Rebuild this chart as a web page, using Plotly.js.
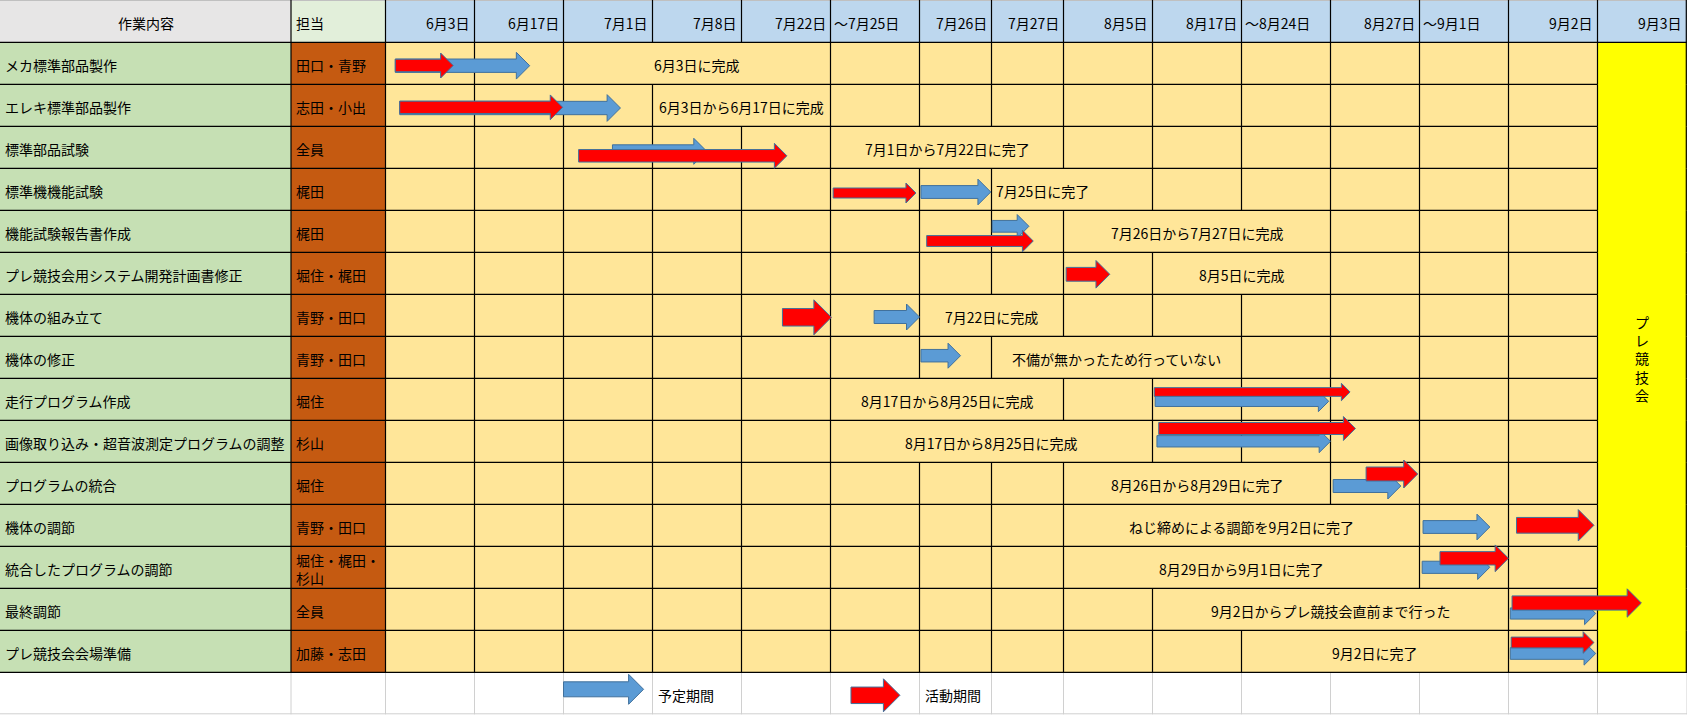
<!DOCTYPE html>
<html><head><meta charset="utf-8">
<script src="https://cdn.plot.ly/plotly-3.0.1.min.js"></script>
<style>html,body{margin:0;padding:0;background:#fff;overflow:hidden}#chart{width:1687px;height:715px}</style>
</head><body><div id="chart"></div>
<script>
// ---------- data ----------
const headerTask = '作業内容';
const headerOwner = '担当';
const dateLabels = ['6月3日','6月17日','7月1日','7月8日','7月22日','～7月25日','7月26日','7月27日','8月5日','8月17日','～8月24日','8月27日','～9月1日','9月2日','9月3日'];
const tasks = ['メカ標準部品製作','エレキ標準部品製作','標準部品試験','標準機機能試験','機能試験報告書作成','プレ競技会用システム開発計画書修正','機体の組み立て','機体の修正','走行プログラム作成','画像取り込み・超音波測定プログラムの調整','プログラムの統合','機体の調節','統合したプログラムの調節','最終調節','プレ競技会会場準備'];
const owners = ['田口・青野','志田・小出','全員','梶田','梶田','堀住・梶田','青野・田口','青野・田口','堀住','杉山','堀住','青野・田口','堀住・梶田・<br>杉山','全員','加藤・志田'];
// planned period (blue arrows), in date-column units (0 = start of 6月3日 column)
const planStart = [0.11, 0.16, 2.55, 6.02, 7.01, null, 5.49, 6.02, 9.03, 9.05, 11.03, 12.04, 12.03, 13.02, 13.02];
const planEnd   = [1.62, 2.64, 3.61, 6.99, 7.52, null, 6.00, 6.57, 10.98, 11.00, 11.79, 12.79, 12.79, 13.98, 13.98];
// actual period (red arrows)
const actualStart = [0.11, 0.16, 2.17, 5.03, 6.10, 8.03, 4.46, null, 9.02, 9.07, 11.40, 13.09, 12.23, 13.04, 13.03];
const actualEnd   = [0.76, 1.99, 4.51, 5.96, 7.58, 8.52, 5.01, null, 11.22, 11.28, 11.98, 13.96, 13.00, 14.49, 13.96];
// result notes (merged cells: from column, to column exclusive)
const notes = ['6月3日に完成','6月3日から6月17日に完成','7月1日から7月22日に完了','7月25日に完了','7月26日から7月27日に完成','8月5日に完成','7月22日に完成','不備が無かったため行っていない','8月17日から8月25日に完成','8月17日から8月25日に完成','8月26日から8月29日に完了','ねじ締めによる調節を9月2日に完了','8月29日から9月1日に完了','9月2日からプレ競技会直前まで行った','9月2日に完了'];
const noteFrom = [2, 3, 5, 7, 8, 9, 6, 7, 5, 5, 8, 8, 8, 9, 10];
const noteTo   = [5, 5, 8, 9, 11, 11, 8, 10, 8, 9, 11, 12, 12, 13, 13];
const eventLabel = 'プレ競技会';
const legendLabels = ['予定期間', '活動期間'];
const legendStart = [2.0, 5.23];
const legendEnd = [2.9, 5.78];
const legendLabelCol = [3, 6];

// ---------- layout / style ----------
const noteAlign = ['c','c','c','l','c','c','c','c','c','c','c','c','c','c','c'];
const planDy   = [2.4, 2.7, 4, 2.7, -5, 0, 1.7, -1.6, 2, 0, 2.7, 1.7, 0, 4.2, 2.2];
const actualDy = [2.2, 2, 8.5, 3.7, 9.7, 1, 2, 0, -7.3, -12.8, -9.3, 0, -9, -6.3, -8.8];
const planH    = [26.7, 26.7, 26, 25.7, 23.5, 0, 26, 25, 20.7, 22.7, 26, 25.7, 24.3, 22.3, 23.3];
const actualH  = [25, 24.7, 25, 20, 21.7, 27.6, 35, 0, 17.4, 24, 28, 31.4, 26.7, 28.4, 21.6];
const legendDy = [-4, 2];
const legendH = [30, 33];

const W = 1687, H = 715;
const firstW = [291, 94.5];
const dateW = [89,89,89,89,89,89,72,72,89,89,89,89,89,89,89.5];
const headerH = 42.3, rowH = 42;
const FONT = '"Noto Sans CJK JP", "Noto Sans CJK SC", sans-serif';
const C = {task:'#c6e0b4', owner:'#c55a11', cell:'#ffe699', event:'#ffff00', hTask:'#e7e6e6', hOwner:'#e2efda', hDate:'#bdd7ee',
           blue:'#5b9bd5', red:'#ff0000', outline:'#41719c', grid:'#d0d0d0'};

const dateEdges = [firstW[0] + firstW[1]];
dateW.forEach(w => dateEdges.push(dateEdges[dateEdges.length-1] + w));
const xOwner = firstW[0], xDate0 = dateEdges[0], xEnd = dateEdges[dateEdges.length-1];
function colX(c) {
  const i = Math.min(Math.floor(c), dateW.length - 1);
  return dateEdges[i] + (c - i) * dateW[i];
}
const nRows = tasks.length;
const rowTop = r => headerH + r * rowH;
const rowMid = r => rowTop(r) + rowH / 2;
const bodyBottom = rowTop(nRows);
const legendTop = bodyBottom, legendBottom = legendTop + rowH;

const shapes = [];
const ann = [];
function rect(x0, y0, x1, y1, fill) {
  shapes.push({type:'rect', xref:'x', yref:'y', x0, y0, x1, y1, fillcolor:fill, line:{width:0}, layer:'above'});
}
function line(x0, y0, x1, y1, color, w) {
  shapes.push({type:'line', xref:'x', yref:'y', x0, y0, x1, y1, line:{color, width:w}, layer:'above'});
}
function text(t, x, y, xanchor, extra) {
  ann.push(Object.assign({text:t, x, y, xref:'x', yref:'y', xanchor, yanchor:'middle', showarrow:false,
    font:{family:FONT, size:14, color:'#000'}, align: xanchor === 'right' ? 'right' : 'left'}, extra || {}));
}
function arrow(s, e, yc, hh, fill) {
  const x0 = colX(s), x1 = colX(e);
  const hb = hh * 0.5, L = hh * 0.5;
  const p = `M ${x0},${yc-hb/2} L ${x1-L},${yc-hb/2} L ${x1-L},${yc-hh/2} L ${x1},${yc} L ${x1-L},${yc+hh/2} L ${x1-L},${yc+hb/2} L ${x0},${yc+hb/2} Z`;
  shapes.push({type:'path', xref:'x', yref:'y', path:p, fillcolor:fill, line:{color:C.outline, width:1}, layer:'above'});
}

// ---- backgrounds ----
rect(0, 0, xOwner, headerH, C.hTask);
rect(xOwner, 0, xDate0, headerH, C.hOwner);
rect(xDate0, 0, xEnd, headerH, C.hDate);
rect(0, headerH, xOwner, bodyBottom, C.task);
rect(xOwner, headerH, xDate0, bodyBottom, C.owner);
rect(xDate0, headerH, dateEdges[14], bodyBottom, C.cell);
rect(dateEdges[14], headerH, xEnd, bodyBottom, C.event);

// ---- legend row grid (light gray) ----
[xOwner, ...dateEdges].forEach(x => line(x, legendTop, x, legendBottom, C.grid, 1));
line(0, legendBottom - 0.5, W, legendBottom - 0.5, C.grid, 1);

// ---- header lines ----
line(0, 0.5, W, 0.5, '#c0c0c0', 1);
[xOwner, ...dateEdges].forEach(x => line(Math.min(x, W - 0.7), 0, Math.min(x, W - 0.7), headerH, '#000', 1.2));

// ---- body horizontal lines ----
line(0, headerH, W, headerH, '#000', 1.2);
for (let r = 1; r < nRows; r++) line(0, rowTop(r), dateEdges[14], rowTop(r), '#000', 1.2);
line(0, bodyBottom, W, bodyBottom, '#000', 1.2);

// ---- body vertical lines ----
for (let r = 0; r < nRows; r++) {
  const y0 = rowTop(r), y1 = rowTop(r + 1);
  line(xOwner, y0, xOwner, y1, '#000', 1.2);
  for (let k = 0; k < dateEdges.length; k++) {
    if (k > noteFrom[r] && k < noteTo[r]) continue;
    const x = Math.min(dateEdges[k], W - 0.7);
    line(x, y0, x, y1, '#000', 1.2);
  }
}

// ---- header text ----
text(headerTask, xOwner / 2, 23, 'center');
text(headerOwner, xOwner + 3, 23, 'left');
dateLabels.forEach((d, i) => {
  if (d.startsWith('～')) text(d, dateEdges[i] + 1, 23, 'left');
  else text(d, dateEdges[i + 1] - 3, 23, 'right');
});

// ---- rows text ----
tasks.forEach((t, r) => {
  text(t, 3, rowMid(r) + 1.5, 'left');
  text(owners[r], xOwner + 3, rowMid(r) + 1.5, 'left');
  if (noteAlign[r] === 'l') text(notes[r], dateEdges[noteFrom[r]] + 2, rowMid(r) + 1.5, 'left');
  else text(notes[r], (dateEdges[noteFrom[r]] + dateEdges[noteTo[r]]) / 2, rowMid(r) + 1.5, 'center');
});
text(eventLabel.split('').join('<br>'), (dateEdges[14] + xEnd) / 2, (headerH + bodyBottom) / 2 + 1, 'center', {align:'center'});

// ---- arrows ----
for (let r = 0; r < nRows; r++) {
  if (planStart[r] !== null) arrow(planStart[r], planEnd[r], rowMid(r) + planDy[r], planH[r], C.blue);
  if (actualStart[r] !== null) arrow(actualStart[r], actualEnd[r], rowMid(r) + actualDy[r], actualH[r], C.red);
}
// ---- legend ----
const legendMid = (legendTop + legendBottom) / 2;
arrow(legendStart[0], legendEnd[0], legendMid + legendDy[0], legendH[0], C.blue);
arrow(legendStart[1], legendEnd[1], legendMid + legendDy[1], legendH[1], C.red);
legendLabels.forEach((l, i) => text(l, dateEdges[legendLabelCol[i]] + 3, legendMid + 2, 'left'));

const layout = {
  width: W, height: H,
  margin: {l:0, r:0, t:0, b:0, pad:0},
  paper_bgcolor: '#ffffff', plot_bgcolor: '#ffffff',
  xaxis: {range:[0, W], visible:false, fixedrange:true},
  yaxis: {range:[H, 0], visible:false, fixedrange:true},
  shapes, annotations: ann, showlegend:false
};
Plotly.newPlot('chart', [], layout, {staticPlot:true, displayModeBar:false});
</script>
</body></html>
